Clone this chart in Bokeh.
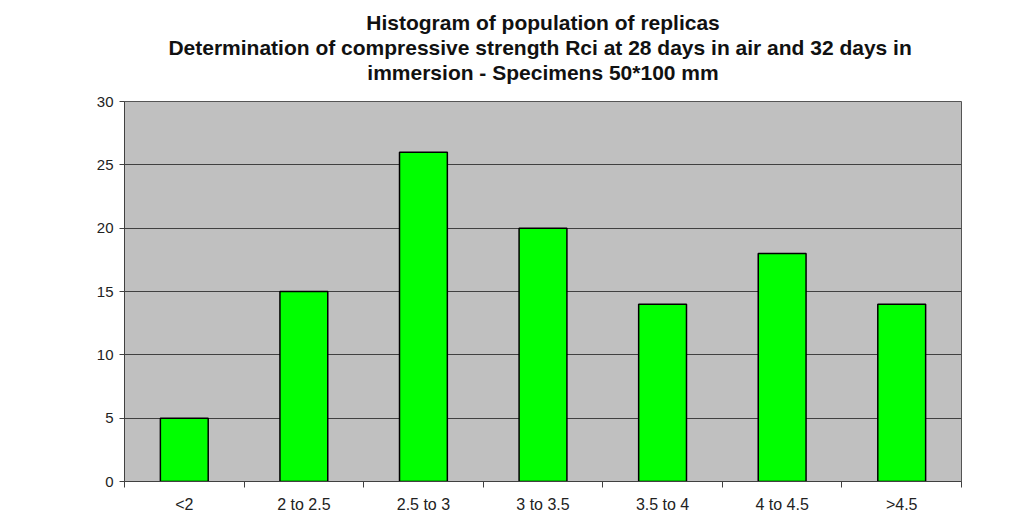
from bokeh.plotting import figure
from bokeh.models import ColumnDataSource, FixedTicker, Range1d, Title
from bokeh.embed import file_html
from bokeh.resources import INLINE

categories = ["<2", "2 to 2.5", "2.5 to 3", "3 to 3.5", "3.5 to 4", "4 to 4.5", ">4.5"]
counts = [5, 15, 26, 20, 14, 18, 14]
y_ticks = [0, 5, 10, 15, 20, 25, 30]
title_lines = [
    "Histogram of population of replicas",
    "Determination of compressive strength Rci at 28 days in air and 32 days  in",
    "immersion - Specimens 50*100 mm",
]

xpos = [i + 0.5 for i in range(len(categories))]
src = ColumnDataSource(dict(x=xpos, top=counts, cat=categories))

p = figure(width=1014, height=515, output_backend="svg", toolbar_location=None,
           x_range=Range1d(0, len(categories)), y_range=Range1d(0, 30),
           min_border_left=124, min_border_right=53, min_border_top=101, min_border_bottom=31)

p.background_fill_color = "#C0C0C0"
p.border_fill_color = "white"
p.outline_line_color = "#555555"
p.outline_line_width = 1

p.vbar(x="x", top="top", width=0.4, source=src, fill_color="#00FF00",
       line_color="black", line_width=1.5)

FONT = "Liberation Sans"
# spacer between the title block and the plot area
p.add_layout(Title(text=" ", text_font=FONT, text_font_size="14px", standoff=0), "above")
for t in reversed(title_lines):
    p.add_layout(Title(text=t, align="center", text_font=FONT, text_font_size="21px",
                       text_font_style="bold", text_color="#111111", standoff=0), "above")

# y axis
p.yaxis.ticker = FixedTicker(ticks=y_ticks)
p.yaxis.axis_line_color = "#404040"
p.yaxis.major_tick_line_color = "#404040"
p.yaxis.major_tick_out = 5
p.yaxis.major_tick_in = 0
p.yaxis.minor_tick_line_color = None
p.yaxis.major_label_text_font = FONT
p.yaxis.major_label_text_font_size = "15px"
p.yaxis.major_label_text_color = "#222222"
p.yaxis.major_label_standoff = 6

# x axis
p.xaxis.ticker = FixedTicker(ticks=xpos, minor_ticks=list(range(len(categories) + 1)))
p.xaxis.major_label_overrides = {x: c for x, c in zip(xpos, categories)}
p.xaxis.axis_line_color = "#404040"
p.xaxis.major_tick_line_color = None
p.xaxis.major_tick_out = 0
p.xaxis.major_tick_in = 0
p.xaxis.minor_tick_line_color = "#404040"
p.xaxis.minor_tick_out = 6
p.xaxis.minor_tick_in = 0
p.xaxis.major_label_text_font = FONT
p.xaxis.major_label_text_font_size = "16px"
p.xaxis.major_label_text_color = "#222222"
p.xaxis.major_label_standoff = 8

p.xgrid.grid_line_color = None
p.ygrid.grid_line_color = "#404040"
p.ygrid.grid_line_width = 1

open("out.html", "w").write(file_html(p, INLINE))
